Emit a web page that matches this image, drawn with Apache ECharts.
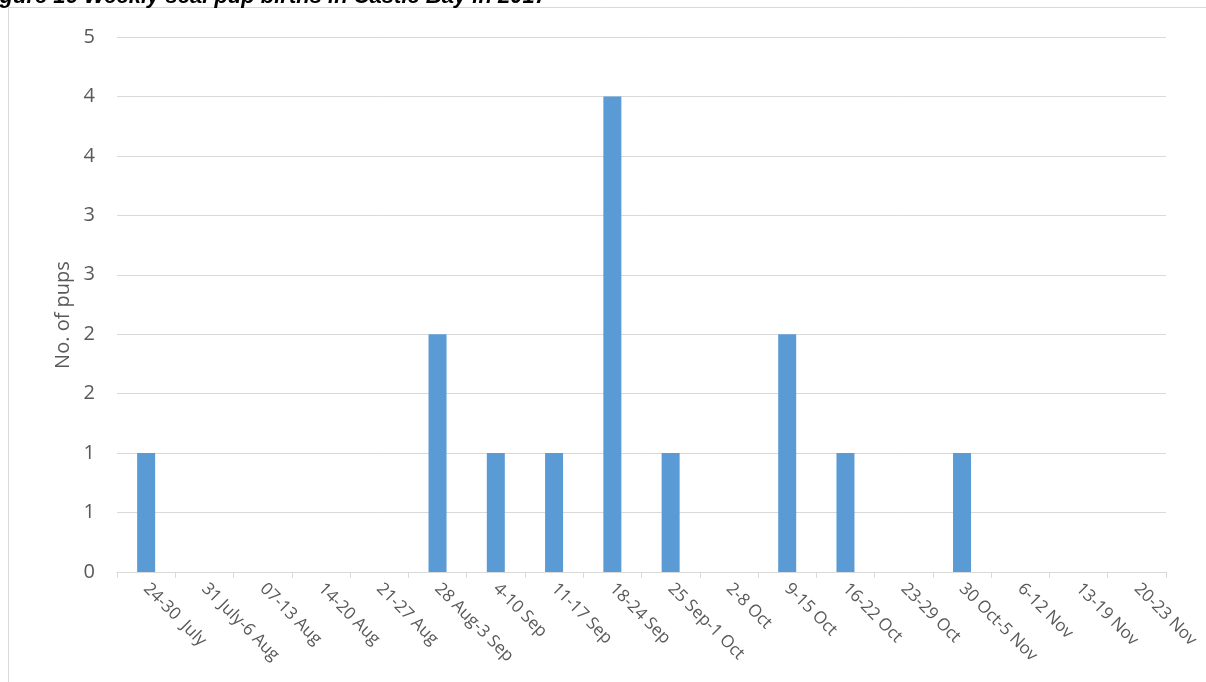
<!DOCTYPE html>
<html>
<head>
<meta charset="utf-8">
<script src="https://cdn.jsdelivr.net/npm/echarts@6/dist/echarts.min.js"></script>
<style>
  html, body { margin: 0; padding: 0; background: #ffffff; }
  #chart { width: 1206px; height: 682px; }
</style>
</head>
<body>
<div id="chart"></div>
<script>
// Weekly seal pup births, Castle Bay 2017
const weeks = [
  '24-30  July', '31 July-6 Aug', '07-13 Aug', '14-20 Aug', '21-27 Aug',
  '28 Aug-3 Sep', '4-10 Sep', '11-17 Sep', '18-24 Sep', '25 Sep-1 Oct',
  '2-8 Oct', '9-15 Oct', '16-22 Oct', '23-29 Oct', '30 Oct-5 Nov',
  '6-12 Nov', '13-19 Nov', '20-23 Nov'
];
const pups = [1, 0, 0, 0, 0, 2, 1, 1, 4, 1, 0, 2, 1, 0, 1, 0, 0, 0];
// value-axis labels, one per 0.5 step, shown rounded to whole pups
const yTickLabels = ['0', '1', '1', '2', '2', '3', '3', '4', '4', '5'];
const titleText = 'Figure 16 Weekly seal pup births in Castle Bay in 2017';
const yTitle = 'No. of pups';

const chart = echarts.init(document.getElementById('chart'), null, { renderer: 'canvas' });
const txt = '#595959';
const grid = '#D9D9D9';

chart.setOption({
  backgroundColor: '#ffffff',
  animation: false,
  grid: { left: 117, right: 40, top: 37, bottom: 110, containLabel: false },
  xAxis: {
    type: 'category',
    data: weeks,
    boundaryGap: true,
    axisLine: { show: true, lineStyle: { color: grid, width: 1 } },
    axisTick: { show: true, alignWithLabel: false, length: 6, lineStyle: { color: grid } },
    axisLabel: {
      interval: 0, rotate: -45, color: txt, margin: 14,
      fontFamily: 'Open Sans', fontSize: 17
    },
    splitLine: { show: false }
  },
  yAxis: {
    type: 'value',
    min: 0, max: 4.5, interval: 0.5,
    axisLine: { show: false },
    axisTick: { show: false },
    axisLabel: {
      color: txt, margin: 22, fontFamily: 'Open Sans', fontSize: 20,
      formatter: v => yTickLabels[Math.round(v / 0.5)]
    },
    splitLine: { show: true, lineStyle: { color: grid, width: 1 } }
  },
  series: [{
    type: 'bar',
    data: pups,
    barWidth: 18,
    itemStyle: { color: '#5B9BD5' }
  }],
  graphic: [
    {
      type: 'rect', silent: true, z: -1,
      shape: { x: 8.5, y: 7.5, width: 1400, height: 900 },
      style: { fill: null, stroke: grid, lineWidth: 1 }
    },
    {
      type: 'text', x: -20, y: -3,
      style: {
        text: titleText, fill: '#000000', align: 'left', verticalAlign: 'middle',
        font: 'italic bold 22px "Liberation Sans", Arial, sans-serif'
      }
    },
    {
      type: 'text', x: 63, y: 315, rotation: Math.PI / 2,
      style: {
        text: yTitle, fill: txt, align: 'center', verticalAlign: 'middle',
        font: '20px "Open Sans", sans-serif'
      }
    }
  ]
});
</script>
</body>
</html>
